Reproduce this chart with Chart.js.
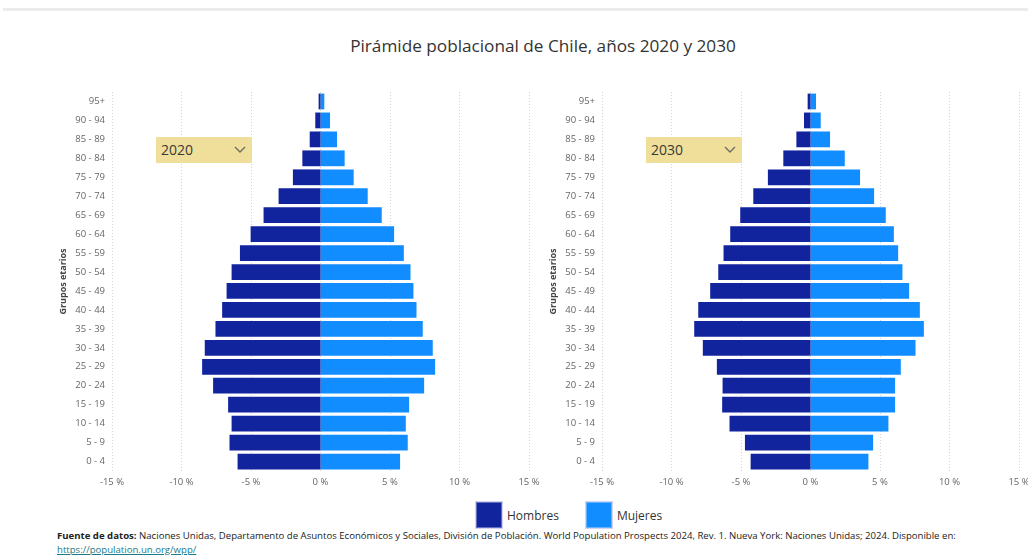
<!DOCTYPE html>
<html lang="es">
<head>
<meta charset="utf-8">
<title>Pirámide poblacional de Chile</title>
<script src="https://cdn.jsdelivr.net/npm/chart.js@4/dist/chart.umd.min.js"></script>
<style>
    html, body { margin: 0; padding: 0; background: #fff; }
    body { width: 1028px; height: 557px; position: relative; overflow: hidden; font-family: 'Open Sans', sans-serif; }
    .top-rule { position: absolute; left: 3px; right: 0; top: 8px; height: 3px; background: #ececec; }
    .title { position: absolute; left: 0; width: 1086px; top: 34px; text-align: center; font-size: 17.2px; color: #333; }
    canvas { position: absolute; }
    .slicer { position: absolute; width: 96px; height: 26px; background: #efdf9b; color: #3b3a36; font-size: 14px; line-height: 26px; box-sizing: border-box; padding-left: 5px; }
    .slicer svg { position: absolute; right: 6px; top: 9px; }
    .legend { position: absolute; top: 502px; left: 476px; display: flex; align-items: center; font-size: 12px; color: #333; }
    .legend .sw { width: 24px; height: 24px; border: 1px solid rgba(255,255,255,.35); outline: 1px solid rgba(80,80,200,.25); margin-right: 5px; }
    .legend .item { display: flex; align-items: center; margin-right: 27px; }
    .source { position: absolute; left: 57px; top: 529px; font-size: 9.6px; color: #222; line-height: 14px; white-space: nowrap; }
    .source a { color: #1b7b86; }
</style>
</head>
<body>
<div class="top-rule"></div>
<div class="title">Pirámide poblacional de Chile, años 2020 y 2030</div>

<canvas id="chart-2020" width="490" height="410" style="left:50px; top:85px;"></canvas>
<canvas id="chart-2030" width="488" height="410" style="left:540px; top:85px;"></canvas>

<div class="slicer" style="left:156px; top:137px;">2020<svg width="12" height="8" viewBox="0 0 12 8"><polyline points="1,1 6,6 11,1" fill="none" stroke="#6b6a63" stroke-width="1.3"/></svg></div>
<div class="slicer" style="left:646px; top:137px;">2030<svg width="12" height="8" viewBox="0 0 12 8"><polyline points="1,1 6,6 11,1" fill="none" stroke="#6b6a63" stroke-width="1.3"/></svg></div>

<div class="legend" id="legend"></div>

<div class="source"><b>Fuente de datos:</b> Naciones Unidas, Departamento de Asuntos Económicos y Sociales, División de Población. World Population Prospects 2024, Rev. 1. Nueva York: Naciones Unidas; 2024. Disponible en:<br><a href="https://population.un.org/wpp/">https://population.un.org/wpp/</a></div>

<script>
/* age groups, bottom (0 - 4) to top (95+) */
const ageGroups = ['0 - 4', '5 - 9', '10 - 14', '15 - 19', '20 - 24', '25 - 29', '30 - 34', '35 - 39', '40 - 44', '45 - 49',
    '50 - 54', '55 - 59', '60 - 64', '65 - 69', '70 - 74', '75 - 79', '80 - 84', '85 - 89', '90 - 94', '95+'];

/* % of population per group */
const men2020 = [5.93, 6.51, 6.36, 6.61, 7.69, 8.48, 8.29, 7.52, 7.04, 6.72, 6.36, 5.76, 4.99, 4.06, 2.98, 1.95, 1.27, 0.74, 0.34, 0.10];
const women2020 = [5.69, 6.24, 6.10, 6.34, 7.42, 8.21, 8.04, 7.32, 6.87, 6.65, 6.44, 5.96, 5.26, 4.37, 3.36, 2.35, 1.70, 1.15, 0.65, 0.24];
const men2030 = [4.27, 4.68, 5.79, 6.32, 6.29, 6.70, 7.71, 8.33, 8.04, 7.18, 6.60, 6.22, 5.74, 5.02, 4.08, 3.03, 1.92, 0.98, 0.43, 0.17];
const women2030 = [4.13, 4.47, 5.57, 6.05, 6.05, 6.46, 7.52, 8.12, 7.83, 7.06, 6.58, 6.27, 5.96, 5.38, 4.54, 3.53, 2.43, 1.37, 0.70, 0.36];

const xTicks = [-15, -10, -5, 0, 5, 10, 15];
const seriesNames = ['Hombres', 'Mujeres'];
const seriesColors = ['#12239E', '#118DFF'];

const tickFont = { family: "'Open Sans', sans-serif", size: 9.5 };

function makePyramid(id, men, women, rightPad) {
    return new Chart(document.getElementById(id), {
        type: 'bar',
        data: {
            labels: ageGroups,
            datasets: [
                { label: seriesNames[0], data: men.map(v => -v), backgroundColor: seriesColors[0], inflateAmount: 0.5 },
                { label: seriesNames[1], data: women, backgroundColor: seriesColors[1], inflateAmount: 0.5 },
            ],
        },
        options: {
            indexAxis: 'y',
            responsive: false,
            devicePixelRatio: 1,
            animation: false,
            barPercentage: 0.78,
            categoryPercentage: 1,
            layout: { padding: { top: 7, right: rightPad, left: 0, bottom: 0 } },
            plugins: {
                legend: { display: false },
                tooltip: { callbacks: { label: c => c.dataset.label + ': ' + Math.abs(c.raw) + ' %' } },
            },
            scales: {
                x: {
                    stacked: true,
                    min: -15,
                    max: 15,
                    afterBuildTicks: s => { s.ticks = xTicks.map(v => ({ value: v })); },
                    // fixed height, and no extra room for the end labels
                    afterFit: s => { s.height = 24; s.paddingLeft = 0; s.paddingRight = 0; },
                    ticks: { callback: v => v + ' %', color: '#666', font: tickFont, padding: 6, maxRotation: 0 },
                    grid: { color: '#d4d4d4', drawTicks: false },
                    border: { display: false, dash: [1, 2] },
                },
                y: {
                    stacked: true,
                    reverse: true,
                    afterFit: s => { s.width = 62; s.paddingTop = 0; s.paddingBottom = 0; },
                    ticks: { color: '#666', font: tickFont, padding: 7 },
                    grid: { display: false, drawTicks: false },
                    border: { display: false },
                    title: {
                        display: true,
                        text: 'Grupos etarios',
                        color: '#444',
                        font: { family: "'Open Sans', sans-serif", size: 9, weight: 'bold' },
                        padding: { top: 8, bottom: 0 },
                    },
                },
            },
        },
    });
}

makePyramid('chart-2020', men2020, women2020, 11);
makePyramid('chart-2030', men2030, women2030, 9);

/* legend */
const legend = document.getElementById('legend');
seriesNames.forEach((name, i) => {
    const item = document.createElement('div');
    item.className = 'item';
    item.innerHTML = '<span class="sw" style="background:' + seriesColors[i] + '"></span>' + name;
    legend.appendChild(item);
});
</script>
</body>
</html>
